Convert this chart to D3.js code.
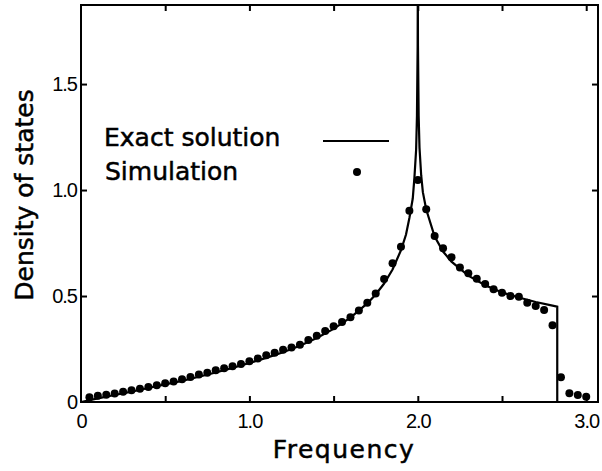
<!DOCTYPE html>
<html>
<head>
<meta charset="utf-8">
<script src="https://cdn.jsdelivr.net/npm/d3@7"></script>
<style>
body { margin: 0; background: #fff; }
</style>
</head>
<body>
<script>
// simulation points
var simFreq = [0.05, 0.10, 0.15, 0.20, 0.25, 0.30, 0.35, 0.40, 0.45, 0.50,
               0.55, 0.60, 0.65, 0.70, 0.75, 0.80, 0.85, 0.90, 0.95, 1.00,
               1.05, 1.10, 1.15, 1.20, 1.25, 1.30, 1.35, 1.40, 1.45, 1.50,
               1.55, 1.60, 1.65, 1.70, 1.75, 1.80, 1.85, 1.90, 1.95, 2.00,
               2.05, 2.10, 2.15, 2.20, 2.25, 2.30, 2.35, 2.40, 2.45, 2.50,
               2.55, 2.60, 2.65, 2.70, 2.75, 2.80, 2.85, 2.90, 2.95, 3.00];
var simDos = [0.022, 0.030, 0.034, 0.040, 0.048, 0.056, 0.063, 0.071, 0.079, 0.089,
              0.097, 0.107, 0.118, 0.130, 0.138, 0.150, 0.159, 0.169, 0.179, 0.192,
              0.205, 0.221, 0.232, 0.247, 0.257, 0.270, 0.292, 0.312, 0.335, 0.357,
              0.377, 0.400, 0.432, 0.468, 0.512, 0.580, 0.655, 0.733, 0.902, 1.047,
              0.909, 0.783, 0.725, 0.683, 0.635, 0.607, 0.582, 0.557, 0.532, 0.516,
              0.500, 0.497, 0.468, 0.453, 0.434, 0.362, 0.117, 0.041, 0.033, 0.025];

// exact solution curve
var exactFreq = [0, 0.1, 0.2, 0.3, 0.4, 0.5, 0.6, 0.7, 0.8, 0.9,
                 1.0, 1.1, 1.2, 1.3, 1.4, 1.5, 1.6, 1.7, 1.75, 1.8,
                 1.85, 1.9, 1.93, 1.95, 1.97, 1.98, 1.99, 1.995, 1.999, 2.0,
                 2.001, 2.005, 2.01, 2.02, 2.03, 2.05, 2.1, 2.15, 2.2, 2.3,
                 2.4, 2.5, 2.6, 2.7, 2.8, 2.828, 2.828];
var exactDos = [0, 0.017, 0.033, 0.049, 0.066, 0.083, 0.100, 0.119, 0.139, 0.161,
                0.184, 0.208, 0.235, 0.265, 0.302, 0.345, 0.398, 0.465, 0.507, 0.559,
                0.625, 0.716, 0.79, 0.868, 0.96, 1.06, 1.19, 1.35, 1.68, 1.95,
                1.68, 1.35, 1.2, 1.07, 0.99, 0.908, 0.781, 0.71, 0.662, 0.596,
                0.551, 0.517, 0.493, 0.472, 0.455, 0.45, 0];

var xTickValues = [0.5, 1.0, 1.5, 2.0, 2.5, 3.0];
var xLabelValues = [0, 1.0, 2.0, 3.0];
var yTickValues = [0.5, 1.0, 1.5];
var yLabelValues = [0, 0.5, 1.0, 1.5];

const canvWidth = 602, canvHeight = 471;
const plot = {left: 81, right: 598, top: 5, bottom: 402};

const svg = d3.select("body").append("svg")
    .attr("width", canvWidth)
    .attr("height", canvHeight);

var xScale = d3.scaleLinear().domain([0, 3.07]).range([plot.left, plot.right]);
var yScale = d3.scaleLinear().domain([0, 1.873]).range([plot.bottom, plot.top]);

var fmt = function (d) { return d === 0 ? "0" : d3.format(".1f")(d); };

// inward ticks on all four sides
svg.append("g")
    .attr("transform", "translate(0," + plot.bottom + ")")
    .call(d3.axisBottom(xScale).tickValues(xTickValues).tickSize(-6).tickFormat(""));
svg.append("g")
    .attr("transform", "translate(0," + plot.top + ")")
    .call(d3.axisTop(xScale).tickValues(xTickValues).tickSize(-6).tickFormat(""));
svg.append("g")
    .attr("transform", "translate(" + plot.left + ",0)")
    .call(d3.axisLeft(yScale).tickValues(yTickValues).tickSize(-6).tickFormat(""));
svg.append("g")
    .attr("transform", "translate(" + plot.right + ",0)")
    .call(d3.axisRight(yScale).tickValues(yTickValues).tickSize(-6).tickFormat(""));

// tick labels
var xLab = svg.append("g")
    .attr("transform", "translate(0," + plot.bottom + ")")
    .call(d3.axisBottom(xScale).tickValues(xLabelValues).tickSize(0).tickPadding(12).tickFormat(fmt));
var yLab = svg.append("g")
    .attr("transform", "translate(" + plot.left + ",0)")
    .call(d3.axisLeft(yScale).tickValues(yLabelValues).tickSize(0).tickPadding(4).tickFormat(fmt));

svg.selectAll(".domain").remove();
svg.selectAll(".tick line").attr("stroke", "#000").attr("stroke-width", 2);
[xLab, yLab].forEach(function (g) {
    g.selectAll("text")
        .attr("fill", "#000")
        .style("font-family", "'Liberation Sans', Arial, sans-serif")
        .style("font-size", "20px")
        .style("letter-spacing", "-1px");
});

// frame
svg.append("rect")
    .attr("x", plot.left)
    .attr("y", plot.top)
    .attr("width", plot.right - plot.left)
    .attr("height", plot.bottom - plot.top)
    .attr("fill", "none")
    .attr("stroke", "#000")
    .attr("stroke-width", 2);

svg.append("clipPath").attr("id", "clip")
    .append("rect")
    .attr("x", plot.left)
    .attr("y", plot.top)
    .attr("width", plot.right - plot.left)
    .attr("height", plot.bottom - plot.top);

var exactData = exactFreq.map(function (f, i) { return [f, exactDos[i]]; });
var simData = simFreq.map(function (f, i) { return [f, simDos[i]]; });

var lineFunction = d3.line()
    .x(d => xScale(d[0]))
    .y(d => yScale(d[1]))
    .curve(d3.curveLinear);

svg.append("path")
    .attr("clip-path", "url(#clip)")
    .attr("d", lineFunction(exactData))
    .attr("fill", "none")
    .attr("stroke", "#000")
    .attr("stroke-width", 2.2)
    .attr("stroke-linejoin", "miter");

svg.append("g")
    .attr("clip-path", "url(#clip)")
    .selectAll("circle")
    .data(simData).enter()
    .append("circle")
    .attr("cx", d => xScale(d[0]))
    .attr("cy", d => yScale(d[1]))
    .attr("r", 4)
    .attr("fill", "#000");

// legend
var legendFont = "'DejaVu Sans', sans-serif";
function heavy(t) {
    return t.style("font-family", legendFont).style("font-size", "25px")
        .attr("fill", "#000").attr("stroke", "#000").attr("stroke-width", 0.5);
}
heavy(svg.append("text")
    .attr("x", 104).attr("y", 146))
    .text("Exact solution");
heavy(svg.append("text")
    .attr("x", 105).attr("y", 180))
    .text("Simulation");
svg.append("line")
    .attr("x1", 323).attr("x2", 389)
    .attr("y1", 141).attr("y2", 141)
    .attr("stroke", "#000").attr("stroke-width", 2);
svg.append("circle")
    .attr("cx", 357).attr("cy", 172).attr("r", 4)
    .attr("fill", "#000");

// axis titles
heavy(svg.append("text")
    .attr("x", 344).attr("y", 458)
    .attr("text-anchor", "middle")
    .style("letter-spacing", "1.5px"))
    .text("Frequency");
heavy(svg.append("text")
    .attr("transform", "translate(33,195) rotate(-90)")
    .attr("text-anchor", "middle"))
    .text("Density of states");
</script>
</body>
</html>
